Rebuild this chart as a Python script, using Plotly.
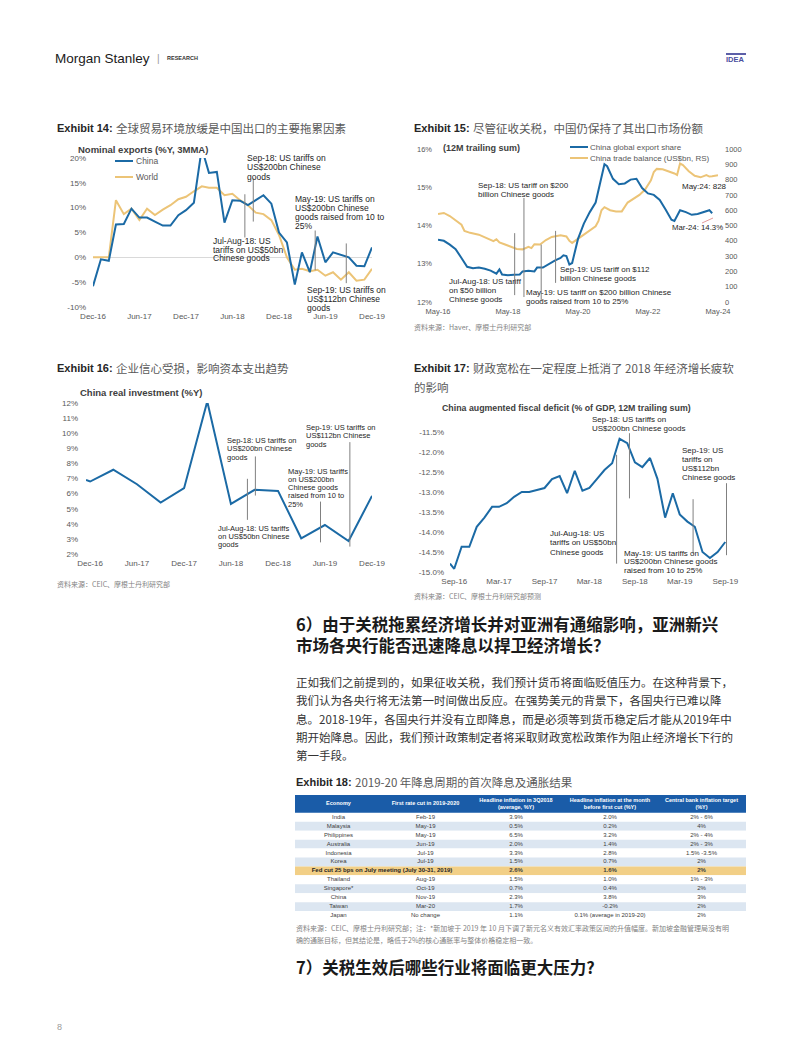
import plotly.graph_objects as go
import pandas as pd

W, H = 802, 1037
OFF = 8  # page body margin of the html page
def px(x): return (x - OFF) / W
def py(y): return 1 - (y - OFF) / H

EN = "Liberation Sans, Arial, sans-serif"
CJK = "Noto Sans CJK SC, sans-serif"
BLUE = "#1b6aa5"
GOLD = "#ecc477"
TICK = "#595959"
TXT = "#262626"

# ---------------- Exhibit 14 data ----------------
months14 = pd.date_range("2016-12-01", "2019-12-01", freq="MS")
china14 = [-5.8, -0.4, -0.7, 6.6, 6.7, 9.8, 8.0, 8.0, 7.2, 6.4, 6.4, 8.5, 9.5,
           11.0, 22.0, 17.0, 17.2, 7.0, 11.5, 11.4, 10.5, 11.5, 12.5, 10.8, 5.0,
           3.0, -5.5, 1.0, -3.0, 4.2, -1.0, 1.0, 0.5, 0.0, -1.7, -1.8, 2.0]
world14 = [0, 0, 0, 11.5, 8.7, 9.8, 7.5, 9.8, 8.5, 9.6, 10.5, 11.7, 12.2,
           13.3, 14.3, 14.0, 14.0, 12.5, 12.8, 11.5, 10.5, 9.0, 8.7, 7.5, 4.5,
           0.0, -2.5, -2.3, -2.8, -2.5, -3.7, -3.0, -4.5, -3.0, -4.7, -4.5, -2.3]
ticks14 = ["2016-12-01", "2017-06-01", "2017-12-01", "2018-06-01", "2018-12-01", "2019-06-01", "2019-12-01"]
ticktext14 = ["Dec-16", "Jun-17", "Dec-17", "Jun-18", "Dec-18", "Jun-19", "Dec-19"]

# ---------------- Exhibit 15 data ----------------
share_months = ["2016-05", "2016-07", "2016-09", "2016-11", "2017-01", "2017-03", "2017-05", "2017-07",
                "2017-09", "2017-11", "2018-01", "2018-02", "2018-03", "2018-05", "2018-07", "2018-09",
                "2018-10", "2018-12", "2019-02", "2019-03", "2019-05", "2019-07", "2019-09", "2019-11",
                "2019-12", "2020-01", "2020-02", "2020-03", "2020-04", "2020-05", "2020-07", "2020-09",
                "2020-11", "2021-01", "2021-02", "2021-03", "2021-05", "2021-07", "2021-09", "2021-11",
                "2022-01", "2022-03", "2022-05", "2022-07", "2022-09", "2022-11", "2023-01", "2023-02",
                "2023-04", "2023-06", "2023-08", "2023-10", "2023-12", "2024-02", "2024-03"]
share_vals = [13.63, 13.6, 13.5, 13.38, 13.15, 12.92, 12.88, 12.9, 12.87, 12.82, 12.74, 12.85, 12.72,
              12.7, 12.71, 12.72, 12.8, 12.82, 12.8, 12.9, 12.9, 13.0, 13.08, 13.15, 13.22, 13.2, 12.98,
              13.02, 13.38, 13.65, 14.05, 14.35, 14.6, 15.24, 15.6, 15.55, 15.22, 15.08, 15.1, 15.2,
              15.22, 14.98, 14.84, 14.8, 14.67, 14.42, 14.15, 14.12, 14.4, 14.35, 14.28, 14.3, 14.34,
              14.4, 14.32]
bal_months = ["2016-05", "2016-07", "2016-09", "2016-11", "2017-01", "2017-02", "2017-04", "2017-07",
              "2017-09", "2017-12", "2018-01", "2018-02", "2018-04", "2018-06", "2018-08", "2018-10",
              "2018-12", "2019-01", "2019-02", "2019-04", "2019-06", "2019-08", "2019-11", "2020-01",
              "2020-02", "2020-03", "2020-04", "2020-05", "2020-07", "2020-09", "2020-11", "2020-12",
              "2021-01", "2021-02", "2021-04", "2021-06", "2021-08", "2021-10", "2021-12", "2022-02",
              "2022-04", "2022-06", "2022-07", "2022-08", "2022-10", "2022-12", "2023-02", "2023-03",
              "2023-04", "2023-05", "2023-07", "2023-09", "2023-11", "2024-01", "2024-02", "2024-03",
              "2024-05"]
bal_vals = [575, 582, 562, 536, 505, 465, 452, 440, 423, 398, 410, 390, 376, 364, 347, 344, 360, 352,
            378, 376, 405, 425, 436, 428, 400, 386, 400, 418, 444, 470, 495, 530, 600, 620, 600, 592,
            592, 650, 672, 700, 735, 795, 850, 870, 868, 855, 840, 830, 905, 895, 855, 825, 815, 830,
            820, 822, 828]
ticks15 = ["2016-05-01", "2018-05-01", "2020-05-01", "2022-05-01", "2024-05-01"]
ticktext15 = ["May-16", "May-18", "May-20", "May-22", "May-24"]

# ---------------- Exhibit 16 data ----------------
inv_dates = ["2016-11-15", "2016-12-01", "2017-03-01", "2017-06-01", "2017-09-01", "2017-12-01",
             "2018-03-01", "2018-06-01", "2018-09-01", "2018-12-01", "2019-03-01", "2019-06-01",
             "2019-09-01", "2019-12-01"]
inv_vals = [6.9, 6.8, 7.58, 6.62, 5.41, 6.36, 12.1, 5.32, 6.25, 6.18, 3.04, 3.92, 2.86, 5.85]

# ---------------- Exhibit 17 data ----------------
fis_dates = ["2016-08-15"] + [d.strftime("%Y-%m-%d") for d in pd.date_range("2016-09-01", "2019-09-01", freq="MS")]
fis_vals = [-14.79, -14.92, -14.37, -14.37, -13.87,
            -13.64, -13.37, -13.37, -13.28, -13.12, -13.0, -13.0, -12.95, -12.9, -12.68, -12.6, -13.03,
            -12.47, -12.97, -12.9, -12.67, -12.45, -12.28, -11.67, -11.78, -12.26, -12.38, -12.15, -12.67,
            -13.64, -13.03, -13.56, -13.74, -13.87, -14.5, -14.65, -14.5, -14.25]
ticks17 = ["2016-09-01", "2017-03-01", "2017-09-01", "2018-03-01", "2018-09-01", "2019-03-01", "2019-09-01"]
ticktext17 = ["Sep-16", "Mar-17", "Sep-17", "Mar-18", "Sep-18", "Mar-19", "Sep-19"]

# ---------------- Exhibit 18 table ----------------
tbl_header = ["Economy", "First rate cut in 2019-2020", "Headline inflation in 3Q2018<br>(average, %Y)",
              "Headline inflation at the month<br>before first cut (%Y)", "Central bank inflation target<br>(%Y)"]
economy = ["India", "Malaysia", "Philippines", "Australia", "Indonesia", "Korea", "", "Thailand",
           "Singapore*", "China", "Taiwan", "Japan"]
first_cut = ["Feb-19", "May-19", "May-19", "Jun-19", "Jul-19", "Jul-19", "", "Aug-19", "Oct-19",
             "Nov-19", "Mar-20", "No change"]
infl_3q18 = ["3.9%", "0.5%", "6.5%", "2.0%", "3.3%", "1.5%", "<b>2.6%</b>", "1.5%", "0.7%", "2.3%", "1.7%", "1.1%"]
infl_prior = ["2.0%", "0.2%", "3.2%", "1.4%", "2.8%", "0.7%", "<b>1.6%</b>", "1.0%", "0.4%", "3.8%", "-0.2%",
              "0.1% (average in 2019-20)"]
infl_target = ["2% - 6%", "4%", "2% - 4%", "2% - 3%", "1.5% -3.5%", "2%", "<b>2%</b>", "1% - 3%", "2%", "3%",
               "2%", "2%"]
fed_row_text = "<b>Fed cut 25 bps on July meeting (July 30-31, 2019)</b>"
row_fill = ["#ffffff", "#dce6f1", "#ffffff", "#dce6f1", "#ffffff", "#dce6f1", "#f2cf86",
            "#ffffff", "#dce6f1", "#ffffff", "#dce6f1", "#ffffff"]
col_edges = [0, 87, 174, 268, 362, 451]

fig = go.Figure()

# Exhibit 14 traces
fig.add_trace(go.Scatter(x=months14, y=world14, mode="lines", line=dict(color=GOLD, width=2),
                         xaxis="x", yaxis="y", showlegend=False))
fig.add_trace(go.Scatter(x=months14, y=china14, mode="lines", line=dict(color=BLUE, width=2),
                         xaxis="x", yaxis="y", showlegend=False))
# Exhibit 15 traces (balance on right axis y2, share on left axis y3 overlaying)
fig.add_trace(go.Scatter(x=bal_months, y=bal_vals, mode="lines", line=dict(color=GOLD, width=2),
                         xaxis="x2", yaxis="y2", showlegend=False))
fig.add_trace(go.Scatter(x=share_months, y=share_vals, mode="lines", line=dict(color=BLUE, width=2),
                         xaxis="x2", yaxis="y3", showlegend=False))
# Exhibit 16
fig.add_trace(go.Scatter(x=inv_dates, y=inv_vals, mode="lines", line=dict(color=BLUE, width=2),
                         xaxis="x3", yaxis="y4", showlegend=False))
# Exhibit 17
fig.add_trace(go.Scatter(x=fis_dates, y=fis_vals, mode="lines", line=dict(color=BLUE, width=2),
                         xaxis="x4", yaxis="y5", showlegend=False))

# Exhibit 18 table drawn on its own axes (x5 / y6)
rows = list(range(len(economy)))
tbl_w = col_edges[-1]
fig.add_trace(go.Bar(orientation="h", y=rows, x=[tbl_w] * len(rows), base=0, width=1,
                     marker=dict(color=row_fill, line=dict(width=0)), xaxis="x5", yaxis="y6",
                     showlegend=False, hoverinfo="skip"))
fig.add_trace(go.Bar(orientation="h", y=[-1.5], x=[tbl_w], base=0, width=2,
                     marker=dict(color="#1a5ca8", line=dict(width=0)), xaxis="x5", yaxis="y6",
                     showlegend=False, hoverinfo="skip"))
centers = [(col_edges[i] + col_edges[i + 1]) / 2 for i in range(5)]
for j, col in enumerate([economy, first_cut, infl_3q18, infl_prior, infl_target]):
    fig.add_trace(go.Scatter(x=[centers[j]] * len(rows), y=rows, mode="text", text=col,
                             textfont=dict(size=6, color="#404040", family=EN), textposition="middle center",
                             xaxis="x5", yaxis="y6", showlegend=False, hoverinfo="skip", cliponaxis=False))
fig.add_trace(go.Scatter(x=centers, y=[-1.5] * 5, mode="text", text=["<b>%s</b>" % h for h in tbl_header],
                         textfont=dict(size=5.5, color="white", family=EN), textposition="middle center",
                         xaxis="x5", yaxis="y6", showlegend=False, hoverinfo="skip", cliponaxis=False))
fig.add_trace(go.Scatter(x=[col_edges[2] / 2], y=[6], mode="text", text=[fed_row_text],
                         textfont=dict(size=6, color="#262626", family=EN), textposition="middle center",
                         xaxis="x5", yaxis="y6", showlegend=False, hoverinfo="skip", cliponaxis=False))

tickfont = dict(size=8, color=TICK, family=EN)
base_x = dict(type="date", showgrid=False, zeroline=False, showline=False, ticks="", tickfont=tickfont,
              tickmode="array", automargin=False, ticklabelstandoff=3)
base_y = dict(showgrid=False, zeroline=False, showline=False, ticks="", tickfont=tickfont, tickmode="array",
              automargin=False)

fig.update_layout(
    width=W, height=H, margin=dict(l=0, r=0, t=0, b=0, pad=0, autoexpand=False),
    paper_bgcolor="white", plot_bgcolor="rgba(0,0,0,0)", showlegend=False,
    xaxis=dict(base_x, domain=[px(93), px(372)], range=["2016-12-01", "2019-12-01"], anchor="y",
               tickvals=ticks14, ticktext=ticktext14),
    yaxis=dict(base_y, domain=[py(307), py(158)], range=[-10, 20], anchor="x",
               tickvals=[-10, -5, 0, 5, 10, 15, 20], ticktext=["-10%", "-5%", "0%", "5%", "10%", "15%", "20%"],
               zeroline=True, zerolinecolor="#d9d9d9", zerolinewidth=1, ticklabelstandoff=6),
    xaxis2=dict(base_x, domain=[px(438), px(718)], range=["2016-05-01", "2024-05-01"], anchor="y2",
                tickvals=ticks15, ticktext=ticktext15, tickfont=dict(size=7.5, color=TICK, family=EN)),
    yaxis2=dict(base_y, domain=[py(302), py(149)], range=[0, 1000], anchor="x2", side="right",
                tickvals=list(range(0, 1001, 100)), tickfont=dict(size=7.5, color=TICK, family=EN),
                ticklabelstandoff=6),
    yaxis3=dict(base_y, range=[12, 16], overlaying="y2", anchor="x2", side="left",
                tickvals=[12, 13, 14, 15, 16], ticktext=["12%", "13%", "14%", "15%", "16%"],
                tickfont=dict(size=7.5, color=TICK, family=EN), ticklabelstandoff=5),
    xaxis3=dict(base_x, domain=[px(86), px(372)], range=["2016-11-15", "2019-12-01"], anchor="y4",
                tickvals=ticks14, ticktext=ticktext14),
    yaxis4=dict(base_y, domain=[py(554), py(403)], range=[2, 12], anchor="x3",
                tickvals=list(range(2, 13)), ticktext=["%d%%" % v for v in range(2, 13)], ticklabelstandoff=7),
    xaxis4=dict(base_x, domain=[px(450), px(727)], range=["2016-08-15", "2019-09-08"], anchor="y5",
                tickvals=ticks17, ticktext=ticktext17),
    yaxis5=dict(base_y, domain=[py(572), py(432)], range=[-15, -11.5], anchor="x4",
                tickvals=[-15, -14.5, -14, -13.5, -13, -12.5, -12, -11.5],
                ticktext=["-15.0%", "-14.5%", "-14.0%", "-13.5%", "-13.0%", "-12.5%", "-12.0%", "-11.5%"],
                ticklabelstandoff=5),
    xaxis5=dict(domain=[px(295), px(746)], range=[0, tbl_w], anchor="y6", visible=False,
                showgrid=False, zeroline=False, automargin=False, fixedrange=True),
    yaxis6=dict(domain=[py(920), py(795)], range=[11.5, -2.5], anchor="x5", visible=False,
                showgrid=False, zeroline=False, automargin=False, fixedrange=True),
    barmode="overlay",
)

shapes = []
def vline(xref, yref, x, y0, y1):
    shapes.append(dict(type="line", xref=xref, yref=yref, x0=x, x1=x, y0=y0, y1=y1,
                       line=dict(color="#808080", width=1)))

# Exhibit 14 event lines
vline("x", "y", "2018-07-20", 12.7, 4.0)
vline("x", "y", "2018-08-22", 15.9, 7.2)
vline("x", "y", "2019-04-22", 5.4, -2.6)
vline("x", "y", "2019-08-22", 2.8, -5.2)
# Exhibit 15 event lines
vline("x2", "y3", "2018-07-10", 13.8, 12.18)
vline("x2", "y3", "2018-10-15", 14.72, 12.13)
vline("x2", "y3", "2019-04-13", 13.5, 12.02)
vline("x2", "y3", "2019-09-10", 13.86, 12.5)
# Exhibit 16 event lines
vline("x3", "y4", "2018-08-04", 6.98, 4.26)
vline("x3", "y4", "2018-09-04", 8.46, 5.87)
vline("x3", "y4", "2019-05-15", 5.47, 2.77)
vline("x3", "y4", "2019-09-06", 9.41, 2.49)
# Exhibit 17 event lines
vline("x4", "y5", "2018-06-19", -12.07, -14.79)
vline("x4", "y5", "2018-08-10", -11.53, -13.16)
vline("x4", "y5", "2019-04-24", -13.18, -14.54)
vline("x4", "y5", "2019-09-06", -12.78, -14.58)

def pline(x0, y0, x1, y1, color, width):
    shapes.append(dict(type="line", xref="paper", yref="paper", x0=px(x0), x1=px(x1), y0=py(y0), y1=py(y1),
                       line=dict(color=color, width=width)))

# legends
pline(115, 161, 133, 161, BLUE, 2)
pline(115, 177, 133, 177, GOLD, 2)
pline(570, 147, 588, 147, BLUE, 2)
pline(570, 158, 588, 158, GOLD, 2)
# Mar-24 pointer
pline(702, 223, 713, 218, "#e39a9a", 1)
# IDEA bar
pline(726, 54, 746, 54, "#5c5fa8", 2)

ann = []
def txt(t, x, y, size, color=TXT, family=EN, bold=False, anchor="left"):
    if bold:
        t = "<b>%s</b>" % t
    ann.append(dict(text=t, x=px(x), y=py(y), xref="paper", yref="paper", xanchor=anchor, yanchor="middle",
                    showarrow=False, font=dict(size=size, color=color, family=family), borderpad=0,
                    align="left"))

def block(lines, x, y0, dy, size, color=TXT, family=EN):
    for i, t in enumerate(lines):
        txt(t, x, y0 + i * dy, size, color, family)

# page header
txt("Morgan Stanley", 54, 58, 13.5, "#1a1a1a")
txt("|", 156, 58, 10, "#9a9a9a")
txt("RESEARCH", 166, 58, 5.5, "#333333", bold=True)
txt("IDEA", 725, 60, 7.5, "#4a4f9e", bold=True)

# exhibit titles
txt("Exhibit 14:", 56, 128, 11, TXT, bold=True)
txt("全球贸易环境放缓是中国出口的主要拖累因素", 115, 128, 11.5, "#595959", CJK)
txt("Exhibit 15:", 413, 128, 11, TXT, bold=True)
txt("尽管征收关税，中国仍保持了其出口市场份额", 472, 128, 11.5, "#595959", CJK)
txt("Exhibit 16:", 56, 368, 11, TXT, bold=True)
txt("企业信心受损，影响资本支出趋势", 115, 368, 11.5, "#595959", CJK)
txt("Exhibit 17:", 413, 368, 11, TXT, bold=True)
txt("财政宽松在一定程度上抵消了 2018 年经济增长疲软", 472, 368, 11.5, "#595959", CJK)
txt("的影响", 413, 387, 11.5, "#595959", CJK)
txt("Exhibit 18:", 295, 782, 11, TXT, bold=True)
txt("2019-20 年降息周期的首次降息及通胀结果", 354, 782, 11.5, "#595959", CJK)

# chart subtitles
txt("Nominal exports (%Y, 3MMA)", 77, 149, 9.5, "#404040", bold=True)
txt("(12M trailing sum)", 442, 148, 9, "#404040", bold=True)
txt("China real investment (%Y)", 79, 392, 9.5, "#404040", bold=True)
txt("China augmented fiscal deficit (% of GDP, 12M trailing sum)", 441, 408, 8.8, "#404040", bold=True)

# legends text
txt("China", 135, 161, 8.5, TICK)
txt("World", 135, 177, 8.5, TICK)
txt("China global export share", 589, 147, 8, TICK)
txt("China trade balance (US$bn, RS)", 589, 158, 8, TICK)

# Exhibit 14 notes
block(["Sep-18: US tariffs on", "US$200bn Chinese", "goods"], 246, 158, 9.5, 8.5)
block(["May-19: US tariffs on", "US$200bn Chinese", "goods raised from 10 to", "25%"], 294, 199, 9, 8.5)
block(["Jul-Aug-18: US", "tariffs on US$50bn", "Chinese goods"], 212, 241, 8.6, 8.5)
block(["Sep-19: US tariffs on", "US$112bn Chinese", "goods"], 306, 290, 9, 8.5)

# Exhibit 15 notes
block(["Sep-18: US tariff on $200", "billion Chinese goods"], 477, 185, 9.3, 8)
block(["Jul-Aug-18: US tariff", "on $50 billion", "Chinese goods"], 448, 281, 9.3, 8)
block(["Sep-19: US tariff on $112", "billion Chinese goods"], 559, 269, 9.3, 8)
block(["May-19: US tariff on $200 billion Chinese", "goods raised from 10 to 25%"], 525, 292, 9.3, 8)
txt("May:24: 828", 681, 186, 8, TXT)
txt("Mar-24: 14.3%", 671, 228, 7.8, TXT)
txt("资料来源：Haver、摩根士丹利研究部", 413, 327, 7, "#7f7f7f", CJK)

# Exhibit 16 notes
block(["Sep-18: US tariffs on", "US$200bn Chinese", "goods"], 226, 440, 8.5, 7.5)
block(["Sep-19: US tariffs on", "US$112bn Chinese", "goods"], 305, 427, 8.5, 7.5)
block(["May-19: US tariffs", "on US$200bn", "Chinese goods", "raised from 10 to", "25%"], 287, 471, 8.3, 7.5)
block(["Jul-Aug-18: US tariffs", "on US$50bn Chinese", "goods"], 217, 528, 8.3, 7.5)
txt("资料来源：CEIC、摩根士丹利研究部", 56, 584, 7, "#7f7f7f", CJK)

# Exhibit 17 notes
block(["Sep-18: US tariffs on", "US$200bn Chinese goods"], 591, 419, 9.6, 8)
block(["Sep-19: US", "tariffs on", "US$112bn", "Chinese goods"], 681, 450, 9.1, 8)
block(["Jul-Aug-18: US", "tariffs on US$50bn", "Chinese goods"], 549, 533, 9.5, 8)
block(["May-19: US tariffs on", "US$200bn Chinese goods", "raised from 10 to 25%"], 623, 553, 8.5, 8)
txt("资料来源：CEIC、摩根士丹利研究部预测", 413, 596, 7, "#7f7f7f", CJK)

# Section 6 heading (single two-line text) & body
txt("<b>6）由于关税拖累经济增长并对亚洲有通缩影响，亚洲新兴<br>市场各央行能否迅速降息以捍卫经济增长？</b>",
    295, 634, 16.5, "#1a1a1a", CJK)
body = ["正如我们之前提到的，如果征收关税，我们预计货币将面临贬值压力。在这种背景下，",
        "我们认为各央行将无法第一时间做出反应。在强势美元的背景下，各国央行已难以降",
        "息。2018-19年，各国央行并没有立即降息，而是必须等到货币稳定后才能从2019年中",
        "期开始降息。因此，我们预计政策制定者将采取财政宽松政策作为阻止经济增长下行的",
        "第一手段。"]
block(body, 295, 682, 18.3, 11.5, "#333333", CJK)

# table notes
txt("资料来源：CEIC、摩根士丹利研究部；注：*新加坡于 2019 年 10 月下调了新元名义有效汇率政策区间的升值幅度。新加坡金融管理局没有明",
    295, 928, 7, "#7f7f7f", CJK)
txt("确的通胀目标，但其结论是，略低于2%的核心通胀率与整体价格稳定相一致。", 295, 940, 7, "#7f7f7f", CJK)

# Section 7 heading
txt("<b>7）关税生效后哪些行业将面临更大压力?</b>", 295, 967, 16.5, "#1a1a1a", CJK)

# page number
txt("8", 56, 1027, 9, "#9a9a9a")

fig.update_layout(shapes=shapes, annotations=ann)
fig.write_html("out.html")
